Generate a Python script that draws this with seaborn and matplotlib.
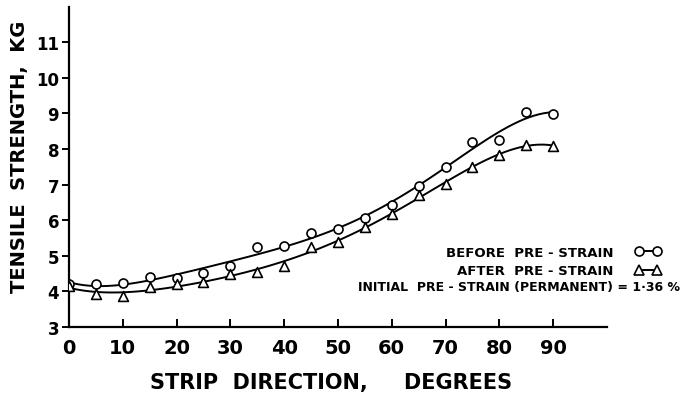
import numpy as np
import pandas as pd
import matplotlib
matplotlib.use("Agg")
import matplotlib.pyplot as plt
import seaborn as sns
from matplotlib.lines import Line2D

# ---- data ----
angles = [0, 5, 10, 15, 20, 25, 30, 35, 40, 45, 50, 55, 60, 65, 70, 75, 80, 85, 90]
before_strain = [4.21, 4.20, 4.24, 4.41, 4.37, 4.52, 4.72, 5.24, 5.28, 5.63, 5.75,
                 6.05, 6.43, 6.95, 7.49, 8.19, 8.26, 9.03, 8.98]
after_strain = [4.15, 3.93, 3.88, 4.12, 4.20, 4.27, 4.49, 4.54, 4.72, 5.24, 5.38,
                5.82, 6.17, 6.72, 7.02, 7.49, 7.83, 8.11, 8.10]
x_ticks = [0, 10, 20, 30, 40, 50, 60, 70, 80, 90]
y_ticks = [3, 4, 5, 6, 7, 8, 9, 10, 11]
legend_labels = ["BEFORE  PRE - STRAIN", "AFTER  PRE - STRAIN"]
note_text = "INITIAL  PRE - STRAIN (PERMANENT) = 1·36 %"

df = pd.DataFrame({"angle": angles, "before": before_strain, "after": after_strain})

sns.set_theme(style="white")
plt.rcParams["font.family"] = ["DejaVu Sans"]
plt.rcParams["font.weight"] = "bold"
plt.rcParams["text.color"] = "black"
plt.rcParams["axes.labelcolor"] = "black"
plt.rcParams["xtick.color"] = "black"
plt.rcParams["ytick.color"] = "black"

fig = plt.figure(figsize=(6.82, 4.06), dpi=100)
ax = fig.add_axes([0.101, 0.192, 0.789, 0.789])

# fitted smooth curves
sns.regplot(data=df, x="angle", y="before", order=5, ci=None, scatter=False,
            color="black", line_kws={"lw": 1.4}, ax=ax, truncate=True)
sns.regplot(data=df, x="angle", y="after", order=5, ci=None, scatter=False,
            color="black", line_kws={"lw": 1.4}, ax=ax, truncate=True)

# measured points
sns.scatterplot(data=df, x="angle", y="before", marker="o", s=42,
                facecolor="white", edgecolor="black", linewidth=1.2, ax=ax, zorder=3)
sns.scatterplot(data=df, x="angle", y="after", marker="^", s=50,
                facecolor="white", edgecolor="black", linewidth=1.2, ax=ax, zorder=3)

ax.set_xlim(0, 100)
ax.set_ylim(3, 12)
ax.set_xticks(x_ticks)
ax.set_yticks(y_ticks)
ax.set_xticklabels([str(t) for t in x_ticks], fontsize=14, fontweight="bold", color="black")
ax.set_yticklabels([str(t) for t in y_ticks], fontsize=12, fontweight="bold", color="black")
ax.tick_params(axis="x", direction="in", length=6, width=1.4, pad=8, color="black")
ax.tick_params(axis="y", direction="out", length=5, width=1.4, pad=2, color="black")
ax.tick_params(left=True, bottom=True)

for s in ["top", "right"]:
    ax.spines[s].set_visible(False)
for s in ["left", "bottom"]:
    ax.spines[s].set_color("black")
    ax.spines[s].set_linewidth(1.6)

ax.set_xlabel("")
ax.set_ylabel("")
fig.text(0.486, 1 - 383 / 406, "STRIP  DIRECTION,     DEGREES", ha="center", va="center",
         fontsize=15, fontweight="bold", color="black")
fig.text(0.028, 1 - 157 / 406, "TENSILE  STRENGTH,  KG", ha="center", va="center",
         rotation=90, fontsize=14, fontweight="bold", color="black")

handles = [
    Line2D([], [], color="black", lw=1.4, marker="o", markersize=6.5,
           markerfacecolor="white", markeredgecolor="black", markeredgewidth=1.2),
    Line2D([], [], color="black", lw=1.4, marker="^", markersize=7,
           markerfacecolor="white", markeredgecolor="black", markeredgewidth=1.2),
]
leg = ax.legend(handles, legend_labels, markerfirst=False, frameon=False,
                loc="center right", bbox_to_anchor=(661 / 682, 1 - 262.5 / 406),
                bbox_transform=fig.transFigure, borderpad=0, borderaxespad=0,
                prop={"size": 9.5, "weight": "bold"}, handletextpad=1.6,
                handlelength=2.0, labelspacing=0.45, numpoints=2)
for t in leg.get_texts():
    t.set_color("black")
fig.text(680 / 682, 1 - 288 / 406, note_text, ha="right", va="center",
         fontsize=9, fontweight="bold", color="black")

fig.savefig("out.png", dpi=100, facecolor="white")
